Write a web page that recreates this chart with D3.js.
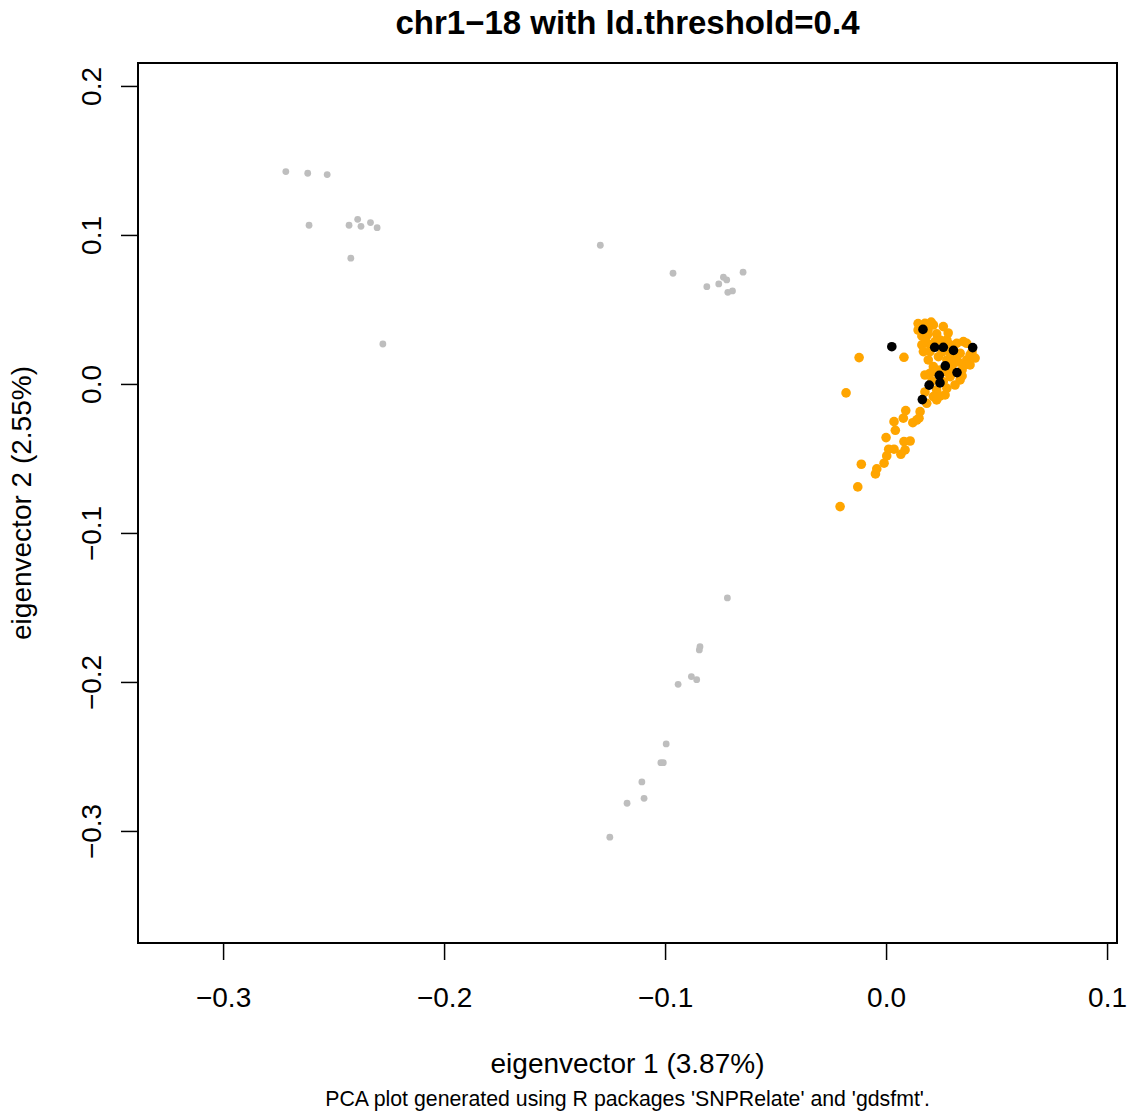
<!DOCTYPE html>
<html><head><meta charset="utf-8">
<script src="https://cdn.jsdelivr.net/npm/d3@7"></script>
<style>body{margin:0;background:#fff}svg{display:block}text{font-family:"Liberation Sans",Arial,Helvetica,sans-serif}</style>
</head><body>
<script>
const titleText = "chr1\u221218 with ld.threshold=0.4";
const xLabel = "eigenvector 1 (3.87%)";
const yLabel = "eigenvector 2 (2.55%)";
const footer = "PCA plot generated using R packages 'SNPRelate' and 'gdsfmt'.";
const xTicks = [-0.3, -0.2, -0.1, 0.0, 0.1];
const yTicks = [-0.3, -0.2, -0.1, 0.0, 0.1, 0.2];

// grey samples
const greyX = [-0.2716,-0.2617,-0.2529,-0.2611,-0.2430,-0.2391,-0.2376,-0.2333,-0.2303,-0.2422,-0.2277,
  -0.1293,-0.0964,-0.0811,-0.0757,-0.0736,-0.0721,-0.0647,-0.0716,-0.0695,
  -0.0718,-0.0842,-0.0845,-0.0881,-0.0857,-0.0941,-0.0995,-0.1019,-0.1008,-0.1105,-0.1095,-0.1172,-0.1250];
const greyY = [0.1425,0.1414,0.1405,0.1065,0.1065,0.1105,0.1058,0.1083,0.1049,0.0844,0.0268,
  0.0931,0.0743,0.0653,0.0671,0.0716,0.0698,0.0750,0.0615,0.0624,
  -0.1436,-0.1763,-0.1785,-0.1964,-0.1985,-0.2016,-0.2416,-0.2542,-0.2542,-0.2671,-0.2781,-0.2814,-0.3042];

// orange samples
const orangeX = [-0.0208,-0.0128,-0.0112,-0.0048,-0.0042,-0.0009,0.0003,0.0012,0.0036,0.0067,0.0086,0.0081,0.0109,
  0.0000,0.0042,0.0036,0.0078,0.0089,0.0121,0.0139,0.0154,0.0149,0.0184,-0.0181,-0.0122,0.0081,
  0.0154,0.0176,0.0214,0.0259,0.0162,0.0187,0.0229,0.0222,0.0275,0.0320,0.0350,0.0365,0.0162,0.0169,0.0199,
  0.0191,0.0237,0.0290,0.0335,0.0365,0.0357,0.0305,0.0275,0.0214,0.0199,0.0290,0.0312,0.0275,0.0229,0.0214,
  0.0229,0.0335,0.0259,0.0244,0.0326,0.0380,0.0344,0.0176,0.0145,0.0199,0.0267,0.0299,
  0.0181,0.0244,0.0290,0.0389,0.0403,0.0253,0.0222,0.0271,0.0312,0.0176,0.0244,0.0344,0.0380,0.0208,
  0.0145,0.0204,0.0190,0.0281];
const orangeY = [-0.0823,-0.0691,-0.0539,-0.0604,-0.0570,-0.0532,-0.0483,-0.0438,-0.0438,-0.0472,-0.0443,-0.0387,-0.0383,
  -0.0360,-0.0311,-0.0253,-0.0230,-0.0179,-0.0260,-0.0242,-0.0186,-0.0230,-0.0130,-0.0060,0.0177,0.0179,
  0.0389,0.0407,0.0396,0.0385,0.0322,0.0329,0.0336,0.0284,0.0295,0.0273,0.0284,0.0273,0.0262,0.0217,0.0217,
  0.0161,0.0183,0.0206,0.0206,0.0161,0.0128,0.0139,0.0161,0.0116,0.0072,0.0049,-0.0007,-0.0029,-0.0040,-0.0085,
  -0.0107,0.0027,0.0015,0.0094,0.0148,0.0195,0.0094,0.0060,0.0362,0.0262,-0.0074,0.0094,
  0.0282,0.0295,0.0262,0.0215,0.0174,0.0215,0.0081,0.0081,0.0181,-0.0054,-0.0081,0.0054,0.0128,0.0020,
  0.0405,0.0415,0.0362,0.0342];

// black samples
const blackX = [0.0167,0.0220,0.0259,0.0305,0.0392,0.0268,0.0321,0.0241,0.0244,0.0195,0.0164,0.0026];
const blackY = [0.0366,0.0246,0.0246,0.0225,0.0244,0.0121,0.0076,0.0058,0.0007,-0.0008,-0.0105,0.0250];

const W = 1127, H = 1114;
const plot = {left: 138, right: 1117, top: 63, bottom: 943};
const svg = d3.select("body").append("svg").attr("width", W).attr("height", H);

const x = d3.scaleLinear().domain([-0.3385, 0.1045]).range([plot.left, plot.right]);
const y = d3.scaleLinear().domain([-0.3752, 0.2154]).range([plot.bottom, plot.top]);
const fmt = d3.format(".1f");

// x axis
const xAxis = svg.append("g").attr("transform", `translate(0,${plot.bottom})`)
  .call(d3.axisBottom(x).tickValues(xTicks).tickFormat(fmt).tickSize(17).tickPadding(20));
xAxis.select(".domain").remove();
xAxis.selectAll("line").attr("stroke", "#000").attr("stroke-width", 1.5);
xAxis.selectAll("text").attr("font-size", 28).attr("fill", "#000")
  .attr("dy", null).attr("y", 64);

// y axis
const yAxis = svg.append("g").attr("transform", `translate(${plot.left},0)`)
  .call(d3.axisLeft(y).tickValues(yTicks).tickFormat(fmt).tickSize(17).tickPadding(20));
yAxis.select(".domain").remove();
yAxis.selectAll("line").attr("stroke", "#000").attr("stroke-width", 1.5);
yAxis.selectAll("text").attr("font-size", 28).attr("fill", "#000")
  .attr("x", null).attr("dy", null)
  .attr("text-anchor", "middle")
  .attr("transform", "translate(-37,0) rotate(-90)")
  .attr("y", 0);

// points
const grey = greyX.map((v, i) => [v, greyY[i]]);
const orange = orangeX.map((v, i) => [v, orangeY[i]]);
const black = blackX.map((v, i) => [v, blackY[i]]);
svg.append("g").selectAll("circle").data(grey).join("circle")
  .attr("cx", d => x(d[0])).attr("cy", d => y(d[1])).attr("r", 3.4).attr("fill", "#BEBEBE");
svg.append("g").selectAll("circle").data(orange).join("circle")
  .attr("cx", d => x(d[0])).attr("cy", d => y(d[1])).attr("r", 4.8).attr("fill", "#FFA500");
svg.append("g").selectAll("circle").data(black).join("circle")
  .attr("cx", d => x(d[0])).attr("cy", d => y(d[1])).attr("r", 4.8).attr("fill", "#000");

// frame
svg.append("rect").attr("x", plot.left).attr("y", plot.top)
  .attr("width", plot.right - plot.left).attr("height", plot.bottom - plot.top)
  .attr("fill", "none").attr("stroke", "#000").attr("stroke-width", 2);

// texts
svg.append("text").attr("x", (plot.left + plot.right) / 2).attr("y", 34)
  .attr("text-anchor", "middle").attr("font-size", 33).attr("font-weight", "bold").text(titleText);
svg.append("text").attr("x", (plot.left + plot.right) / 2).attr("y", 1073)
  .attr("text-anchor", "middle").attr("font-size", 28).text(xLabel);
svg.append("text").attr("transform", `translate(31,${(plot.top + plot.bottom) / 2}) rotate(-90)`)
  .attr("text-anchor", "middle").attr("font-size", 28).text(yLabel);
svg.append("text").attr("x", (plot.left + plot.right) / 2).attr("y", 1106)
  .attr("text-anchor", "middle").attr("font-size", 21.3).text(footer);
</script>
</body></html>
